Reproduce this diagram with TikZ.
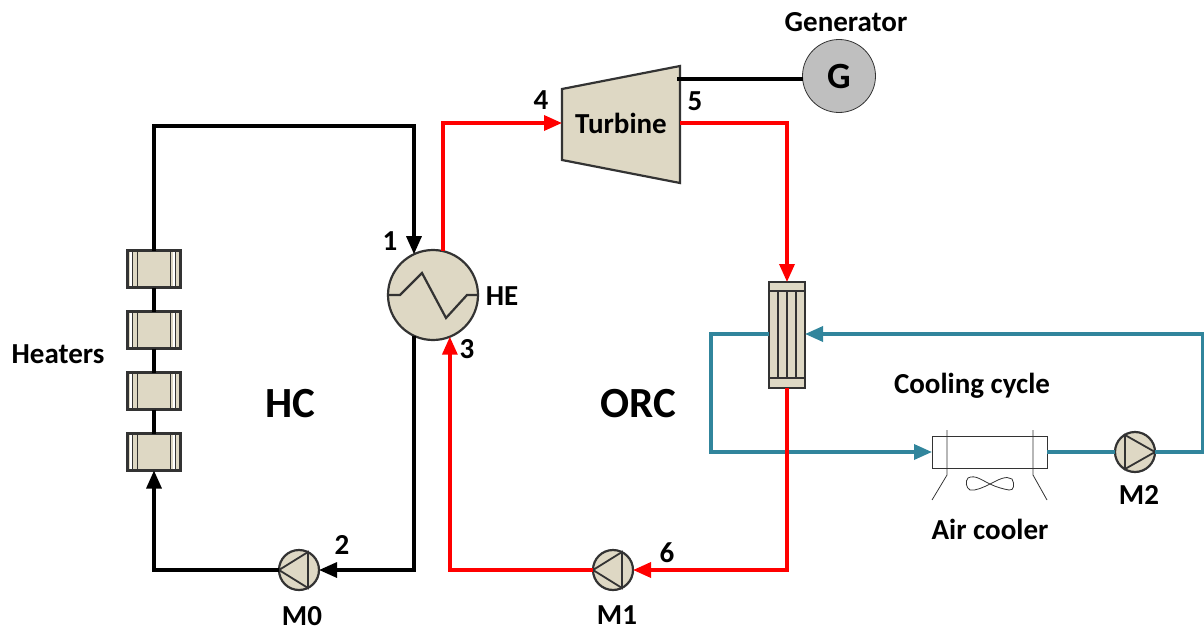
\documentclass[tikz,border=0pt]{standalone}
\usepackage{fontspec}
\setmainfont{Carlito}
\usetikzlibrary{arrows.meta,positioning}
\definecolor{unitfill}{HTML}{DED8C4}
\definecolor{coolblue}{HTML}{31859C}
\definecolor{orcred}{HTML}{FF0000}
\definecolor{genfill}{HTML}{BFBFBF}
\definecolor{unitedge}{HTML}{333333}
\begin{document}
\begin{tikzpicture}[
    x=1pt, y=-1pt,
    node distance=24pt,
    unit/.style={draw=unitedge, line width=2.2pt, fill=unitfill, inner sep=0pt, outer sep=0pt},
    heater/.style={unit, rectangle, minimum width=53pt, minimum height=37pt,
      path picture={
        \fill[white] ([xshift=2pt]path picture bounding box.south west) rectangle ([xshift=5pt]path picture bounding box.north west);
        \fill[white] ([xshift=-5pt]path picture bounding box.south east) rectangle ([xshift=-8pt]path picture bounding box.north east);
        \foreach \xoff in {5,10} {
          \draw[unitedge, line width=1.8pt] ([xshift=\xoff pt]path picture bounding box.south west) -- ([xshift=\xoff pt]path picture bounding box.north west);
          \draw[unitedge, line width=1.8pt] ([xshift=-\xoff pt]path picture bounding box.south east) -- ([xshift=-\xoff pt]path picture bounding box.north east);
        }
      }},
    pump/.style={unit, circle, minimum size=40pt},
    label/.style={font=\fontsize{29}{34}\selectfont\bfseries, inner sep=0pt},
    bigtext/.style={font=\fontsize{43}{50}\selectfont\bfseries, inner sep=0pt},
    blackline/.style={line width=3.2pt, black},
    redline/.style={line width=3.4pt, orcred},
    blueline/.style={line width=3.4pt, coolblue},
    arrow/.style={-{Triangle[length=18pt,width=15pt]}}
  ]
    \useasboundingbox (0,0) rectangle (1204,634);
    % heaters
    \node[heater] (heater1) at (154,269) {};
    \node[heater, below=of heater1] (heater2) {};
    \node[heater, below=of heater2] (heater3) {};
    \node[heater, below=of heater3] (heater4) {};
    % heat exchanger
    \node[unit, circle, minimum size=90pt] (he) at (433,295) {};
    \draw[unitedge, line width=2.2pt] (he.west) -- (400,295) -- (422,273) -- (446,318) -- (467,295) -- (he.east);
    % turbine and generator
    \draw[unit] (562,89) -- (680,66) -- (680,183) -- (562,160) -- cycle;
    \node[font=\fontsize{29}{34}\selectfont\bfseries, minimum width=118pt, inner sep=0pt, outer sep=0pt] (turbine) at (621,123) {Turbine};
    \coordinate (shaft) at (677,79);
    \node[circle, draw=unitedge, line width=0.8pt, fill=genfill, minimum size=73pt, inner sep=0pt, outer sep=0pt,
      font=\fontsize{37}{42}\selectfont\bfseries] (gen) at (839,76) {G};
    % condenser
    \node[unit, rectangle, minimum width=36pt, minimum height=106pt] (cond) at (787,335) {};
    \draw[unitedge, line width=1.8pt] (769,291) -- (805,291) (769,378) -- (805,378);
    \foreach \xpos in {778,787,796} {
      \draw[unitedge, line width=1.8pt] (\xpos,291) -- (\xpos,378);
    }
    % pumps
    \node[pump] (m0) at (299,570) {};
    \draw[unitedge, line width=1.8pt] (m0.west) -- (308,552) -- (308,588) -- cycle;
    \node[pump] (m1) at (613,570) {};
    \draw[unitedge, line width=1.8pt] (m1.west) -- (622,552) -- (622,588) -- cycle;
    \node[pump] (m2) at (1135,452) {};
    \draw[unitedge, line width=1.8pt] (m2.east) -- (1125,435) -- (1125,469) -- cycle;
    % air cooler
    \node[draw=unitedge, line width=0.8pt, fill=white, minimum width=115pt, minimum height=32pt, inner sep=0pt, outer sep=0pt] (cooler) at (989.5,452) {};
    \draw[unitedge, line width=0.8pt] (947,430) -- (947,475) -- (932,500) (1033,430) -- (1033,475) -- (1047,500);
    \draw[unitedge, line width=0.8pt] (968,478) .. controls (975,474) and (983,481) .. (990,484)
      .. controls (998,480) and (1006,475) .. (1012,479) .. controls (1015,484) and (1014,491) .. (1009,490)
      .. controls (1003,489) and (996,487) .. (990,484) .. controls (984,487) and (976,491) .. (970,490)
      .. controls (966,488) and (965,481) .. (968,478) -- cycle;
    % heating cycle
    \draw[blackline, arrow] (heater1.north) |- (he.115 |- 0,126) -- (he.115);
    \draw[blackline] (heater1) -- (heater2);
    \draw[blackline] (heater2) -- (heater3);
    \draw[blackline] (heater3) -- (heater4);
    \draw[blackline, arrow] (he.245) |- (m0.east);
    \draw[blackline, arrow] (m0.west) -| (heater4.south);
    \draw[blackline] (shaft) -- (gen.west |- shaft);
    % cooling cycle
    \draw[blueline, arrow] (cond.west |- 0,334) -- (711,334) -- (711,452) -- (cooler.west);
    \draw[blueline] (cooler.east) -- (m2.west);
    \draw[blueline, arrow] (m2.east) -- (1203,452) -- (1203,334) -- (cond.east |- 0,334);
    % organic cycle
    \draw[redline, arrow] (he.77) |- (turbine.west);
    \draw[redline, arrow] (turbine.east) -| (cond.north);
    \draw[redline, arrow] (cond.south) |- (m1.east);
    \draw[redline, arrow] (m1.west) -| (he.292);
    % labels
    \node[label] (lbl1) at (390,241) {1};
    \node[label] (lbl2) at (342,545) {2};
    \node[label] (lbl3) at (467,349) {3};
    \node[label] (lbl4) at (541,100) {4};
    \node[label] (lbl5) at (695,101) {5};
    \node[label] (lbl6) at (667,553) {6};
    \node[label] (lblhe) at (502,296) {HE};
    \node[label] (lblheaters) at (58,354) {Heaters};
    \node[label] (lblgen) at (846,22) {Generator};
    \node[label] (lblcool) at (972,386) {Cooling cycle};
    \node[label] (lblair) at (990,529) {Air cooler};
    \node[label] (lblm0) at (302,616) {M0};
    \node[label] (lblm1) at (617,615) {M1};
    \node[label] (lblm2) at (1139,495) {M2};
    \node[bigtext] (hc) at (290,404) {HC};
    \node[bigtext] (orc) at (638,404) {ORC};
  \end{tikzpicture}
\end{document}
